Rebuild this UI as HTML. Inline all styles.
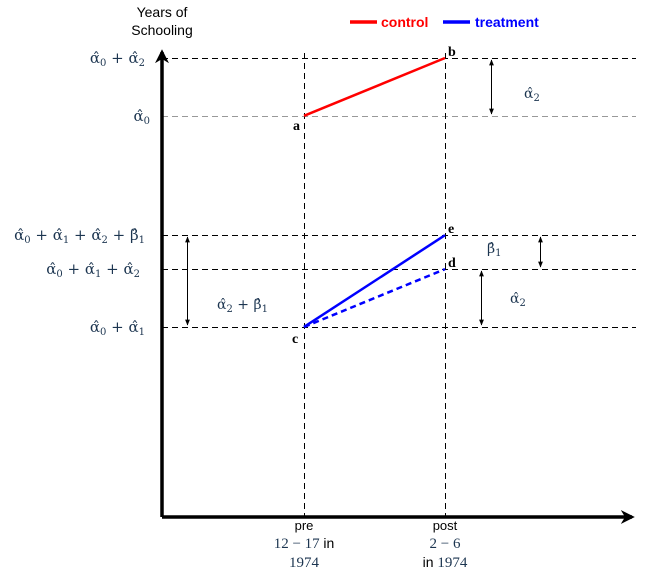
<!DOCTYPE html>
<html><head><meta charset="utf-8">
<style>
body{margin:0;background:#fff;}
svg{display:block;font-family:"Liberation Serif",serif;}
.m{fill:#1c3550;font-size:15px;font-family:"DejaVu Serif",serif;}
.m tspan.b{font-size:10px;}
.a{fill:#1c3550;font-size:14px;font-family:"DejaVu Serif",serif;}
.a tspan.b{font-size:10px;}
.s{font-family:"Liberation Sans",sans-serif;}
</style></head><body>
<svg id="c" width="645" height="576" viewBox="0 0 645 576">
<defs>
<marker id="ah" viewBox="0 0 10 10" refX="9" refY="5" markerWidth="6" markerHeight="6" orient="auto-start-reverse"><path d="M0,1 L10,5 L0,9 z" fill="#000"/></marker>
<marker id="big" viewBox="0 0 10 10" refX="8" refY="5" markerWidth="4" markerHeight="4" orient="auto"><path d="M0,0 L10,5 L0,10 L3,5 z" fill="#000"/></marker>
</defs>
<g id="grid"></g>
<g id="marks"></g>
<line x1="162" y1="517" x2="162" y2="52" stroke="#000" stroke-width="3.5" marker-end="url(#big)"/>
<line x1="162" y1="517" x2="632" y2="517" stroke="#000" stroke-width="3.5" marker-end="url(#big)"/>
<text class="s" x="162" y="17" font-size="14" text-anchor="middle">Years of</text>
<text class="s" x="162" y="35" font-size="14" text-anchor="middle">Schooling</text>
<g>
<line x1="350" y1="22" x2="377" y2="22" stroke="#f00" stroke-width="3.5"/>
<text class="s" x="381" y="27" fill="#f00" font-size="14" font-weight="bold">control</text>
<line x1="443" y1="22" x2="470" y2="22" stroke="#00f" stroke-width="3.5"/>
<text class="s" x="475" y="27" fill="#00f" font-size="14" font-weight="bold">treatment</text>
</g>
<text class="m" x="145" y="63" text-anchor="end">α̂<tspan class="b" dy="3">0</tspan><tspan dy="-3"> + α̂</tspan><tspan class="b" dy="3">2</tspan></text>
<text class="m" x="150" y="121" text-anchor="end">α̂<tspan class="b" dy="3">0</tspan></text>
<text class="m" x="145" y="240" text-anchor="end">α̂<tspan class="b" dy="3">0</tspan><tspan dy="-3"> + α̂</tspan><tspan class="b" dy="3">1</tspan><tspan dy="-3"> + α̂</tspan><tspan class="b" dy="3">2</tspan><tspan dy="-3"> + β̂</tspan><tspan class="b" dy="3">1</tspan></text>
<text class="m" x="140" y="274" text-anchor="end">α̂<tspan class="b" dy="3">0</tspan><tspan dy="-3"> + α̂</tspan><tspan class="b" dy="3">1</tspan><tspan dy="-3"> + α̂</tspan><tspan class="b" dy="3">2</tspan></text>
<text class="m" x="145" y="332" text-anchor="end">α̂<tspan class="b" dy="3">0</tspan><tspan dy="-3"> + α̂</tspan><tspan class="b" dy="3">1</tspan></text>
<text x="304" y="530" class="s" font-size="13" text-anchor="middle">pre</text>
<text x="304" y="548" font-size="15" text-anchor="middle" fill="#1c3550">12 − 17 <tspan class="s" font-size="14" fill="#000">in</tspan></text>
<text x="304" y="567" font-size="15" text-anchor="middle" fill="#1c3550">1974</text>
<text x="445" y="530" class="s" font-size="13" text-anchor="middle">post</text>
<text x="445" y="548" font-size="15" text-anchor="middle" fill="#1c3550">2 − 6</text>
<text x="445" y="567" font-size="15" text-anchor="middle" fill="#1c3550"><tspan class="s" font-size="14" fill="#000">in</tspan> 1974</text>
<g stroke="#000" stroke-width="1">
<line x1="491.5" y1="60" x2="491.5" y2="114" marker-start="url(#ah)" marker-end="url(#ah)"/>
<line x1="540.5" y1="237" x2="540.5" y2="267" marker-start="url(#ah)" marker-end="url(#ah)"/>
<line x1="481.5" y1="271" x2="481.5" y2="325" marker-start="url(#ah)" marker-end="url(#ah)"/>
<line x1="187.5" y1="237" x2="187.5" y2="325" marker-start="url(#ah)" marker-end="url(#ah)"/>
</g>
<text class="a" x="524" y="98">α̂<tspan class="b" dy="3">2</tspan></text>
<text class="a" x="487" y="253">β̂<tspan class="b" dy="3">1</tspan></text>
<text class="a" x="510" y="303">α̂<tspan class="b" dy="3">2</tspan></text>
<text class="a" x="217" y="309">α̂<tspan class="b" dy="3">2</tspan><tspan dy="-3"> + β̂</tspan><tspan class="b" dy="3">1</tspan></text>
<text x="293" y="130" font-size="14" font-weight="bold">a</text>
<text x="448" y="56" font-size="14" font-weight="bold">b</text>
<text x="292" y="343" font-size="14" font-weight="bold">c</text>
<text x="448" y="267" font-size="14" font-weight="bold">d</text>
<text x="448" y="233" font-size="14" font-weight="bold">e</text>
</svg>
<script>
const periods=["pre","post"];
const control=[8.74,10];
const treatment=[4.14,6.14];
const counterfactual=[4.14,5.4];
const refLevels=[10,8.74,6.14,5.4,4.14];
const NS="http://www.w3.org/2000/svg";
const xS=i=>304+i*141;
const yS=v=>517-v*45.9;
const grid=document.getElementById('grid'),marks=document.getElementById('marks');
function ln(p,x1,y1,x2,y2,st,w,dash){const l=document.createElementNS(NS,'line');l.setAttribute('x1',x1);l.setAttribute('y1',y1);l.setAttribute('x2',x2);l.setAttribute('y2',y2);l.setAttribute('stroke',st);l.setAttribute('stroke-width',w);if(dash)l.setAttribute('stroke-dasharray',dash);p.appendChild(l);return l;}
refLevels.forEach((v,i)=>{
  const y=Math.round(yS(v))+0.5;
  const l=ln(grid,162,y,636,y,i===1?'#999':'#000',1,'6,4');
  
  
});
periods.forEach((p,i)=>{
  const x=xS(i)+0.5;
  const l=ln(grid,x,yS(10)-5,x,517,'#000',1,'6,4');
  
  
});
let l=ln(marks,xS(0),yS(control[0]),xS(1),yS(control[1]),'#f00',2.5);


l=ln(marks,xS(0),yS(treatment[0]),xS(1),yS(treatment[1]),'#00f',2.5);


l=ln(marks,xS(0),yS(counterfactual[0]),xS(1),yS(counterfactual[1]),'#00f',2.5,'6,4');


</script>
</body></html>
